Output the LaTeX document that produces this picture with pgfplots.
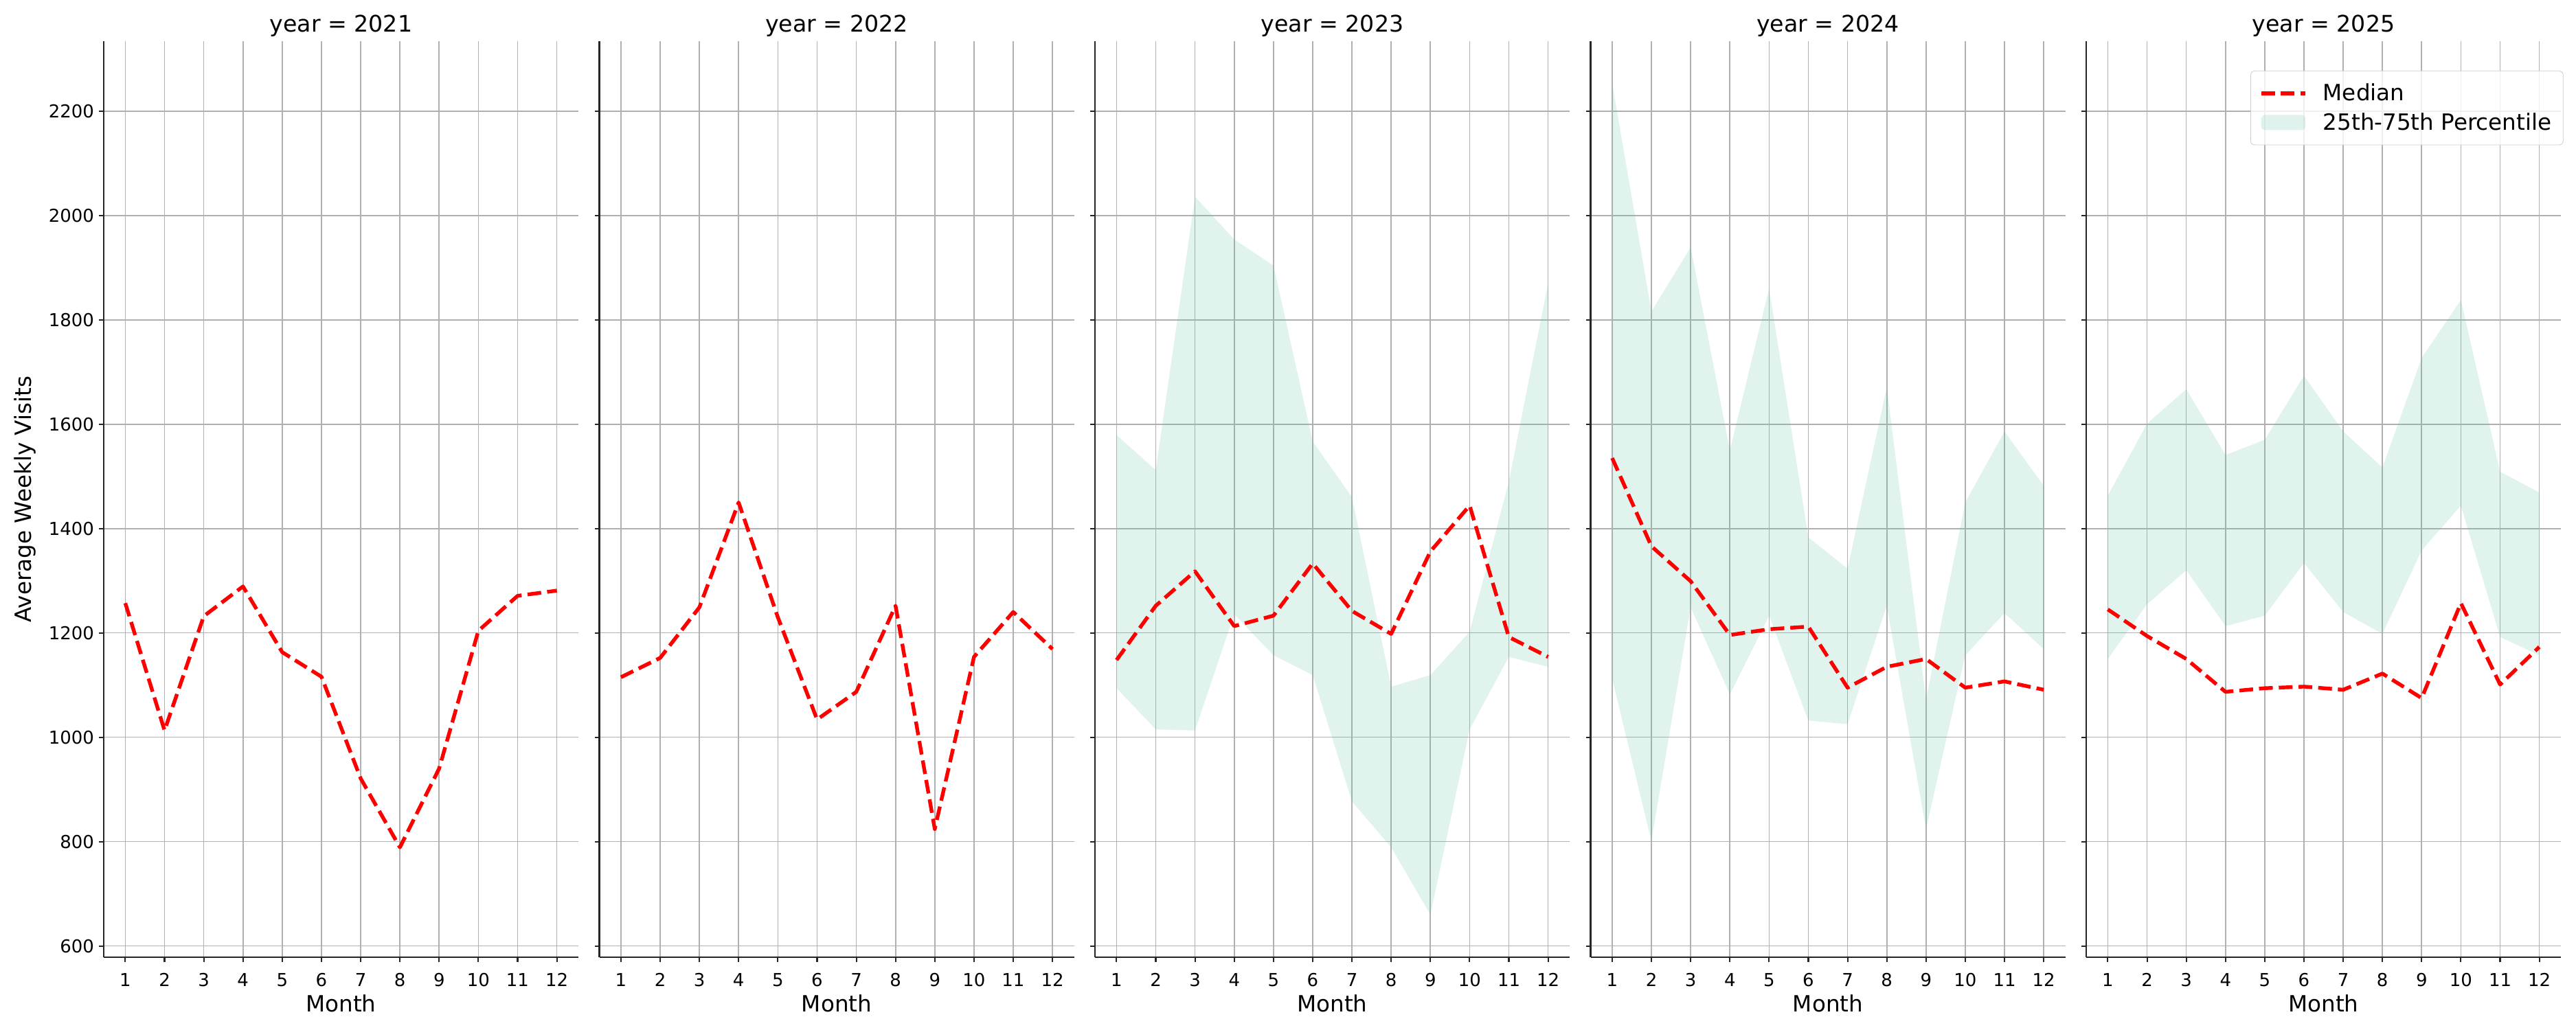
\documentclass[border=0pt]{standalone}
\usepackage{fontspec}
\setmainfont{DejaVu Sans}
\usepackage{pgfplots}
\pgfplotsset{compat=1.18}
\usepackage{pgfplotstable}
\usepgfplotslibrary{fillbetween}

\definecolor{band}{HTML}{66C2A5}
\definecolor{gridc}{HTML}{B0B0B0}
\definecolor{spine}{HTML}{262626}
\definecolor{medc}{HTML}{FF0000}

\pgfplotstableread{
m med
1 1257
2 1013
3 1232
4 1289
5 1163
6 1116
7 921
8 789
9 940
10 1204
11 1271
12 1281
}\tA

\pgfplotstableread{
m med
1 1115
2 1152
3 1249
4 1450
5 1230
6 1034
7 1087
8 1252
9 824
10 1154
11 1240
12 1169
}\tB

\pgfplotstableread{
m med lo hi
1 1148 1094 1579
2 1252 1015 1512
3 1318 1013 2036
4 1213 1236 1954
5 1233 1157 1904
6 1333 1119 1567
7 1242 877 1460
8 1198 789 1097
9 1356 660 1119
10 1444 1015 1202
11 1192 1154 1490
12 1154 1135 1870
}\tC

\pgfplotstableread{
m med lo hi
1 1535 1112 2253
2 1366 801 1816
3 1299 1249 1939
4 1196 1082 1550
5 1207 1233 1860
6 1212 1032 1383
7 1095 1025 1323
8 1135 1252 1671
9 1150 824 1072
10 1095 1157 1450
11 1107 1238 1586
12 1091 1169 1482
}\tD

\pgfplotstableread{
m med lo hi
1 1245 1150 1463
2 1194 1255 1601
3 1150 1320 1667
4 1087 1213 1541
5 1094 1233 1570
6 1097 1334 1693
7 1091 1240 1586
8 1122 1198 1517
9 1075 1358 1727
10 1257 1444 1838
11 1101 1192 1509
12 1173 1157 1469
}\tE

\pgfplotsset{
  panel/.style={
    scale only axis, width=331.68bp, height=640.46bp,
    xmin=0.45, xmax=12.55, ymin=578, ymax=2334,
    xtick={1,...,12}, ytick={600,800,...,2200},
    axis x line=bottom, axis y line=left,
    axis line style={-, draw=spine, line width=1bp},
    every outer x axis line/.append style={-},
    every outer y axis line/.append style={-},
    every inner x axis line/.append style={-},
    every inner y axis line/.append style={-},
    tick align=outside, major tick length=3.2bp,
    tick style={draw=spine, line width=1bp},
    grid=major, major grid style={draw=gridc, line width=0.8bp},
    /pgf/number format/assume math mode=true,
    /pgf/number format/1000 sep={},
    ticklabel style={font=\fontsize{12.5}{14}\selectfont},
    xticklabel style={yshift=-4.5bp},
    xlabel={Month},
    label style={font=\fontsize{15.7}{18}\selectfont},
    xlabel style={at={(axis description cs:0.5,0)}, anchor=center, yshift=-32bp},
    title style={font=\fontsize{16}{18}\selectfont, at={(axis description cs:0.5,1)}, anchor=base, yshift=0.5bp},
  },
  medline/.style={draw=medc, line width=2.6bp, dash pattern=on 9.6bp off 4.2bp, line join=round},
  bandfill/.style={fill=band, fill opacity=0.2, draw=none},
  medleg/.style={legend image code/.code={\draw[##1] (0bp,0bp) -- (31bp,0bp);}},
  bandleg/.style={legend image code/.code={\fill[##1] (0bp,-5.3bp) rectangle (31bp,5.3bp);}},
}

\begin{document}
\begin{tikzpicture}

\begin{axis}[panel, at={(72.48bp,50.74bp)}, anchor=south west,
  title={year = 2021},
  ylabel={Average Weekly Visits},
  ylabel style={at={(axis description cs:-0.1664,0.5)}, anchor=center}]
  \addplot[medline] table[x=m,y=med]{\tA};
\end{axis}

\begin{axis}[panel, at={(418.8bp,50.74bp)}, anchor=south west,
  title={year = 2022}, yticklabels={}]
  \addplot[medline] table[x=m,y=med]{\tB};
\end{axis}

\begin{axis}[panel, at={(765.12bp,50.74bp)}, anchor=south west,
  title={year = 2023}, yticklabels={}]
  \addplot[name path=hiC, draw=none, forget plot] table[x=m,y=hi]{\tC};
  \addplot[name path=loC, draw=none, forget plot] table[x=m,y=lo]{\tC};
  \addplot[bandfill] fill between[of=hiC and loC];
  \addplot[medline] table[x=m,y=med]{\tC};
\end{axis}

\begin{axis}[panel, at={(1111.44bp,50.74bp)}, anchor=south west,
  title={year = 2024}, yticklabels={}]
  \addplot[name path=hiD, draw=none, forget plot] table[x=m,y=hi]{\tD};
  \addplot[name path=loD, draw=none, forget plot] table[x=m,y=lo]{\tD};
  \addplot[bandfill] fill between[of=hiD and loD];
  \addplot[medline] table[x=m,y=med]{\tD};
\end{axis}

\begin{axis}[panel, at={(1457.76bp,50.74bp)}, anchor=south west,
  title={year = 2025}, yticklabels={},
  legend cell align=left,
  legend style={at={(axis description cs:1,1)}, anchor=north east,
    xshift=1.7bp, yshift=-20.6bp, draw=black!20, rounded corners=2.5bp,
    fill=white, fill opacity=0.8, text opacity=1, draw opacity=1,
    font=\fontsize{15.7}{18}\selectfont, inner xsep=6bp, inner ysep=7bp,
    row sep=3bp,
    /tikz/every odd column/.append style={column sep=9bp}}]
  \addplot[name path=hiE, draw=none, forget plot] table[x=m,y=hi]{\tE};
  \addplot[name path=loE, draw=none, forget plot] table[x=m,y=lo]{\tE};
  \addplot[medline, medleg] table[x=m,y=med]{\tE};
  \addlegendentry{Median}
  \addplot[bandfill, bandleg] fill between[of=hiE and loE];
  \addlegendentry{25th-75th Percentile}
\end{axis}

\path (0,0) rectangle (1800bp,720bp);
\end{tikzpicture}
\end{document}
